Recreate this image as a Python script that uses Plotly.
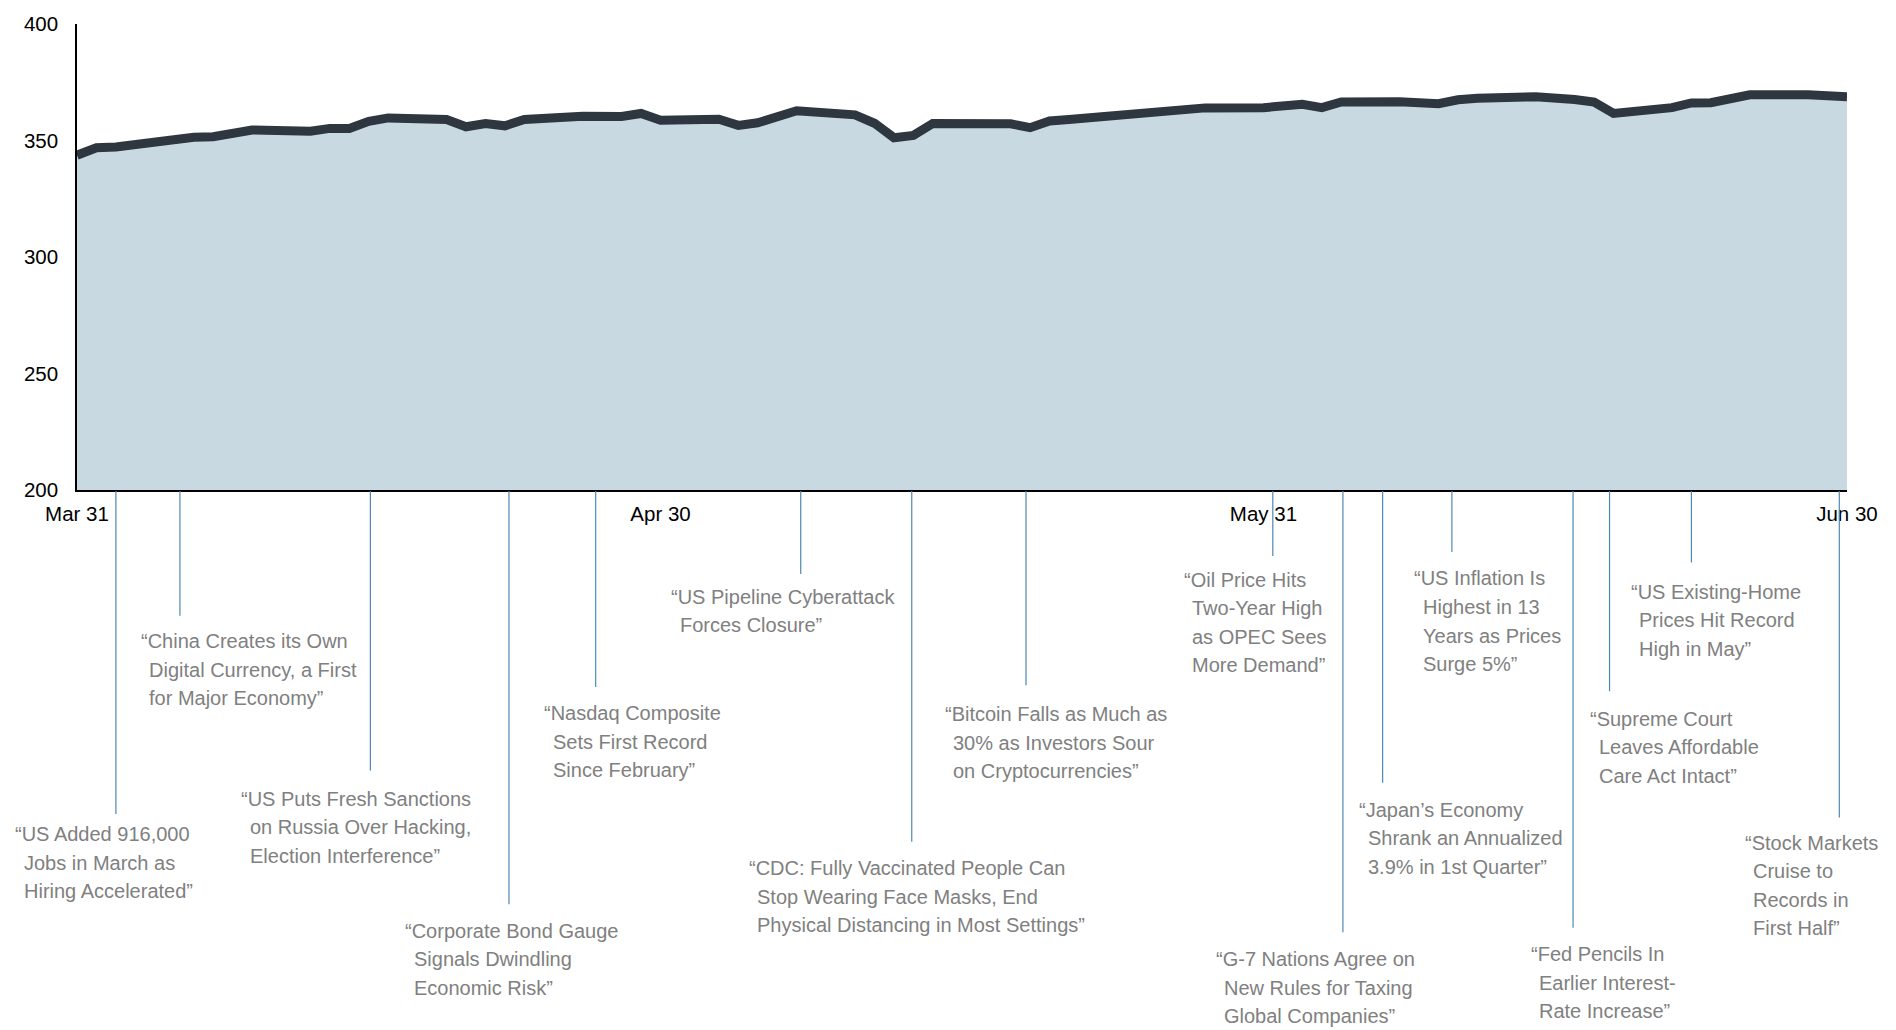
import plotly.graph_objects as go

# ---------------- data ----------------
dates = [
    "2021-03-31", "2021-04-01", "2021-04-02", "2021-04-05", "2021-04-06", "2021-04-07",
    "2021-04-08", "2021-04-09", "2021-04-12", "2021-04-13", "2021-04-14", "2021-04-15",
    "2021-04-16", "2021-04-19", "2021-04-20", "2021-04-21", "2021-04-22", "2021-04-23",
    "2021-04-26", "2021-04-27", "2021-04-28", "2021-04-29", "2021-04-30", "2021-05-03",
    "2021-05-04", "2021-05-05", "2021-05-06", "2021-05-07", "2021-05-10", "2021-05-11",
    "2021-05-12", "2021-05-13", "2021-05-14", "2021-05-17", "2021-05-18", "2021-05-19",
    "2021-05-20", "2021-05-21", "2021-05-24", "2021-05-25", "2021-05-26", "2021-05-27",
    "2021-05-28", "2021-05-31", "2021-06-01", "2021-06-02", "2021-06-03", "2021-06-04",
    "2021-06-07", "2021-06-08", "2021-06-09", "2021-06-10", "2021-06-11", "2021-06-14",
    "2021-06-15", "2021-06-16", "2021-06-17", "2021-06-18", "2021-06-21", "2021-06-22",
    "2021-06-23", "2021-06-24", "2021-06-25", "2021-06-28", "2021-06-29", "2021-06-30",
]
values = [
    343.7, 346.9, 347.2, 350.9, 351.4, 351.6,
    353.0, 354.5, 354.0, 355.2, 355.2, 358.2,
    359.7, 359.0, 355.9, 357.3, 356.3, 359.0,
    360.4, 360.1, 360.3, 361.6, 358.7, 359.1,
    356.5, 357.6, 359.9, 362.8, 361.0, 357.4,
    351.2, 352.2, 357.3, 357.2, 357.2, 355.5,
    358.4, 359.0, 361.0, 361.6, 362.1, 362.7,
    364.0, 364.1, 365.2, 365.5, 364.1, 366.5,
    366.6, 366.6, 365.8, 367.5, 368.1, 368.8,
    368.4, 367.6, 366.5, 361.6, 364.1, 366.1,
    366.2, 368.0, 369.6, 369.6, 369.5, 368.8,
]

tick_dates = ["2021-03-31", "2021-04-30", "2021-05-31", "2021-06-30"]
tick_labels = ["Mar 31", "Apr 30", "May 31", "Jun 30"]
y_ticks = [200, 250, 300, 350, 400]

event_dates = [
    "2021-04-02 00:00", "2021-04-05 07:00", "2021-04-15 02:00", "2021-04-22 05:00",
    "2021-04-26 16:00", "2021-05-07 05:00", "2021-05-12 22:00", "2021-05-18 19:00",
    "2021-05-31 11:30", "2021-06-04 02:00", "2021-06-06 03:00", "2021-06-09 16:30",
    "2021-06-15 22:00", "2021-06-17 19:00", "2021-06-22 00:00", "2021-06-29 14:30",
]
headlines = [
    ["“US Added 916,000", "Jobs in March as", "Hiring Accelerated”"],
    ["“China Creates its Own", "Digital Currency, a First", "for Major Economy”"],
    ["“US Puts Fresh Sanctions", "on Russia Over Hacking,", "Election Interference”"],
    ["“Corporate Bond Gauge", "Signals Dwindling", "Economic Risk”"],
    ["“Nasdaq Composite", "Sets First Record", "Since February”"],
    ["“US Pipeline Cyberattack", "Forces Closure”"],
    ["“CDC: Fully Vaccinated People Can", "Stop Wearing Face Masks, End",
     "Physical Distancing in Most Settings”"],
    ["“Bitcoin Falls as Much as", "30% as Investors Sour", "on Cryptocurrencies”"],
    ["“Oil Price Hits", "Two-Year High", "as OPEC Sees", "More Demand”"],
    ["“G-7 Nations Agree on", "New Rules for Taxing", "Global Companies”"],
    ["“Japan’s Economy", "Shrank an Annualized", "3.9% in 1st Quarter”"],
    ["“US Inflation Is", "Highest in 13", "Years as Prices", "Surge 5%”"],
    ["“Fed Pencils In", "Earlier Interest-", "Rate Increase”"],
    ["“Supreme Court", "Leaves Affordable", "Care Act Intact”"],
    ["“US Existing-Home", "Prices Hit Record", "High in May”"],
    ["“Stock Markets", "Cruise to", "Records in", "First Half”"],
]

# ---------------- layout (pixel geometry) ----------------
W, H = 1896, 1030
PL, PR, PT, PB = 77, 1847, 20, 490
leader_end_px = [816.7, 616.8, 772.9, 907.9, 688.7, 574.7, 844.8, 687.0,
                 556.5, 936.0, 785.2, 552.6, 931.4, 692.9, 563.1, 820.2]
label_first_px = [837.0, 642.3, 801.2, 934.5, 715.3, 597.8, 871.4, 716.0,
                  580.3, 963.3, 812.5, 579.2, 958.0, 720.6, 592.5, 845.8]
label_dx = [-100.5, -39.3, -129.1, -103.5, -51.4, -129.5, -162.9, -81.3,
            -89.3, -127.3, -23.5, -37.9, -42.4, -19.3, -60.7, -94.8]
LINE_STEP = 28.8
INDENT = 8.5

FONT = "Liberation Sans, Arial, Helvetica, sans-serif"
LINE_COLOR = "#2e3640"
FILL_COLOR = "#c9d9e1"
LEADER_COLOR = "#4f88b2"
TEXT_GRAY = "#808080"


def paper_y(px):
    return (PB - px) / (PB - PT)


fig = go.Figure()
fig.add_trace(go.Scatter(
    x=dates, y=values, mode="lines", fill="tozeroy",
    fillcolor=FILL_COLOR, line=dict(color=LINE_COLOR, width=9),
    hoverinfo="skip", showlegend=False,
))

shapes = []
annotations = []
for d, end, first, dx, lines in zip(event_dates, leader_end_px, label_first_px,
                                    label_dx, headlines):
    shapes.append(dict(type="line", xref="x", yref="paper", x0=d, x1=d,
                       y0=paper_y(PB + 1), y1=paper_y(end),
                       line=dict(color=LEADER_COLOR, width=1.2)))
    for i, txt in enumerate(lines):
        annotations.append(dict(
            x=d, xref="x", y=paper_y(first + i * LINE_STEP), yref="paper",
            xshift=dx + (INDENT if i > 0 else 0),
            text=txt, showarrow=False, xanchor="left", yanchor="middle",
            align="left", borderpad=0, borderwidth=0,
            font=dict(family=FONT, size=20, color=TEXT_GRAY),
        ))

fig.update_layout(
    width=W, height=H,
    margin=dict(l=PL, r=W - PR, t=PT, b=H - PB, pad=0),
    paper_bgcolor="white", plot_bgcolor="white",
    font=dict(family=FONT, size=20, color="black"),
    shapes=shapes, annotations=annotations,
    xaxis=dict(
        type="date", range=["2021-03-31", "2021-06-30"],
        tickvals=tick_dates, ticktext=tick_labels,
        showgrid=False, zeroline=False, showline=True,
        linecolor="black", linewidth=1.5, ticks="",
        tickfont=dict(family=FONT, size=20.5, color="black"),
        ticklabelstandoff=5,
    ),
    yaxis=dict(
        range=[200, 400], tickvals=y_ticks,
        showgrid=False, zeroline=False, showline=True,
        linecolor="black", linewidth=1.5, ticks="",
        tickfont=dict(family=FONT, size=20.5, color="black"),
        ticklabelstandoff=13,
    ),
)

fig.write_html("out.html", config={"displayModeBar": False},
               post_script="document.body.style.margin='0';")
